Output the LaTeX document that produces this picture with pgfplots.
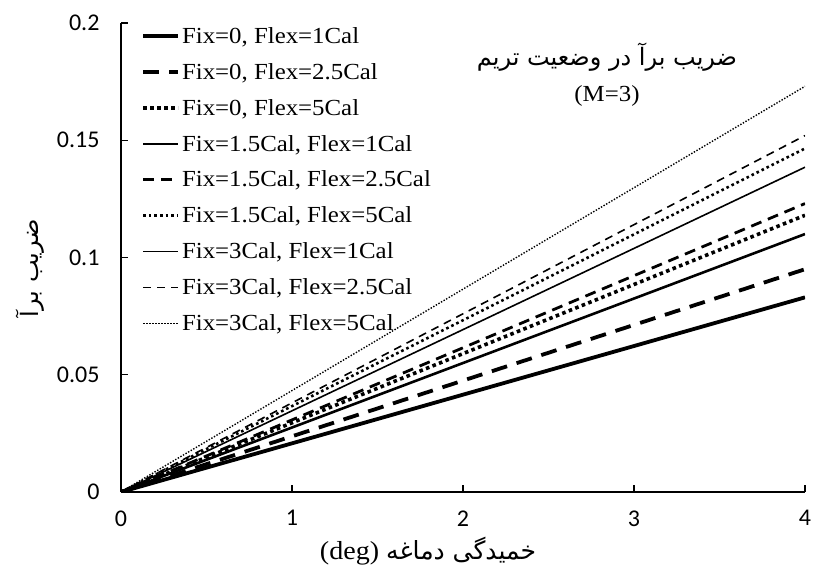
\documentclass[border=0pt]{standalone}
\usepackage{fontspec}
\usepackage{pgfplots}
\pgfplotsset{compat=1.18}
\setmainfont{Liberation Serif}[FakeStretch=1.08]
\newfontfamily\tickfont{Carlito}
\newfontfamily\arabicfont[Script=Arabic]{DejaVu Sans}
\TeXXeTstate=1
\begin{document}
\begin{tikzpicture}
\path[use as bounding box] (0pt,0pt) rectangle (814pt,573pt);
\begin{axis}[
  at={(121pt,81pt)}, anchor=south west,
  scale only axis, width=684pt, height=469pt,
  xmin=0, xmax=4, ymin=0, ymax=0.2,
  axis x line*=bottom, axis y line*=left,
  axis line style={-, line width=1.5pt},
  xtick={0,1,2,3,4}, ytick={0,0.05,0.1,0.15,0.2},
  tick align=inside, major tick length=7pt,
  tick style={line width=1.2pt, black},
  ticklabel style={font=\tickfont\fontsize{24}{28}\selectfont},
  /pgf/number format/assume math mode=true,
  yticklabel style={/pgf/number format/fixed, /pgf/number format/precision=2, xshift=-18pt},
  xticklabel style={yshift=-15pt},
  legend style={draw=none, fill=none, at={(0.025,1.0)}, anchor=north west,
    font=\fontsize{23}{26}\selectfont, row sep=14.5pt, legend cell align=left},
  legend image code/.code={\draw[#1] (0pt,0pt) -- (35pt,0pt);},
]
\addplot[black, line width=3.8pt] coordinates {(0,0) (4,0.083)};
\addlegendentry{Fix=0, Flex=1Cal}
\addplot[black, line width=3.8pt, dash pattern=on 16pt off 10pt] coordinates {(0,0) (4,0.095)};
\addlegendentry{Fix=0, Flex=2.5Cal}
\addplot[black, line width=3.6pt, dash pattern=on 3.6pt off 3.4pt] coordinates {(0,0) (4,0.118)};
\addlegendentry{Fix=0, Flex=5Cal}
\addplot[black, line width=2.6pt] coordinates {(0,0) (4,0.110)};
\addlegendentry{Fix=1.5Cal, Flex=1Cal}
\addplot[black, line width=2.8pt, dash pattern=on 11pt off 7pt] coordinates {(0,0) (4,0.123)};
\addlegendentry{Fix=1.5Cal, Flex=2.5Cal}
\addplot[black, line width=2.6pt, dash pattern=on 2.6pt off 3pt] coordinates {(0,0) (4,0.1465)};
\addlegendentry{Fix=1.5Cal, Flex=5Cal}
\addplot[black, line width=1.6pt] coordinates {(0,0) (4,0.1385)};
\addlegendentry{Fix=3Cal, Flex=1Cal}
\addplot[black, line width=1.6pt, dash pattern=on 8pt off 6pt] coordinates {(0,0) (4,0.152)};
\addlegendentry{Fix=3Cal, Flex=2.5Cal}
\addplot[black, line width=1.4pt, dash pattern=on 1.4pt off 1.6pt] coordinates {(0,0) (4,0.173)};
\addlegendentry{Fix=3Cal, Flex=5Cal}
\end{axis}
\node[font=\arabicfont\fontsize{24}{28}\selectfont] at (607pt,516pt) {\beginR ضریب برآ در وضعیت تریم\endR};
\node[font=\fontsize{23}{26}\selectfont] at (607pt,477pt) {(M=3)};
\node[rotate=90, font=\arabicfont\fontsize{24}{28}\selectfont] at (30pt,305pt) {\beginR ضریب برآ\endR};
\node[font=\fontsize{26}{30}\selectfont] at (428pt,22pt) {(deg) {\arabicfont\fontsize{25}{30}\selectfont\beginR خمیدگی دماغه\endR}};
\end{tikzpicture}
\end{document}
